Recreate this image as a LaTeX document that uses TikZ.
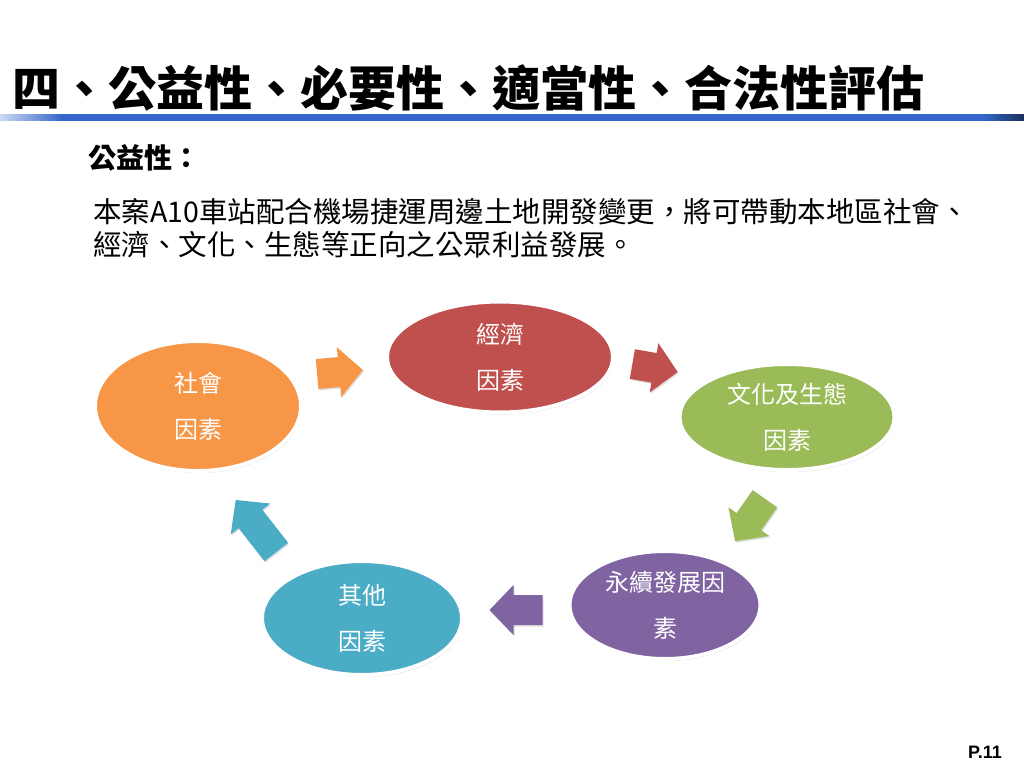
\documentclass[tikz,border=0pt]{standalone}
\usepackage{fontspec}
\newfontfamily\cjk{Noto Sans CJK TC}
\newfontfamily\pagefont{Liberation Sans}
\usetikzlibrary{shapes.geometric,shadows}

\definecolor{barblue}{HTML}{3567CC}
\definecolor{socorange}{HTML}{F79646}
\definecolor{ecored}{HTML}{C0504D}
\definecolor{culgreen}{HTML}{9BBB59}
\definecolor{suspurple}{HTML}{8064A2}
\definecolor{othblue}{HTML}{4BACC6}

\pgfdeclarehorizontalshading{barshade}{100bp}{color(0bp)=(barblue!25!white); color(25bp)=(barblue!25!white);
	color(28bp)=(barblue); color(73bp)=(barblue); color(75bp)=(barblue!45!black); color(100bp)=(barblue!45!black)}

\tikzset{
	factor/.style={ellipse, draw=white, line width=4pt, inner sep=0pt, text=white,
		align=center, font=\cjk\fontsize{24}{46}\selectfont,
		drop shadow={opacity=0.4, shadow xshift=1pt, shadow yshift=-2pt}},
	blockarrow/.style={drop shadow={opacity=0.25, shadow xshift=1pt, shadow yshift=-1.5pt}}
}

\begin{document}
\begin{tikzpicture}[x=1pt,y=-1pt]
		\useasboundingbox (0,0) rectangle (1024,768);
		
		% Title and bar
		\node[anchor=west, inner sep=0pt, font=\cjk\bfseries\fontsize{48}{50}\selectfont] (title) at (12,88) {四、公益性、必要性、適當性、合法性評估};
		\shade[shading=barshade] (0,114) rectangle (1024,120);
		
		% Text
		\node[anchor=west, inner sep=0pt, font=\cjk\bfseries\fontsize{28}{30}\selectfont] (head) at (88,158) {公益性：};
		\node[anchor=north west, inner sep=0pt, align=left, font=\cjk\fontsize{28.5}{33}\selectfont] (body) at (93,198)
			{本案A10車站配合機場捷運周邊土地開發變更，將可帶動本地區社會、\\經濟、文化、生態等正向之公眾利益發展。};
		
		% Factors
		\node[factor, fill=socorange, minimum width=206, minimum height=130] (social) at (198,406) {社會\\因素};
		\node[factor, fill=ecored, minimum width=226, minimum height=111] (economy) at (500,357) {經濟\\因素};
		\node[factor, fill=culgreen, minimum width=215, minimum height=106] (culture) at (787,417) {文化及生態\\因素};
		\node[factor, fill=suspurple, minimum width=191, minimum height=108] (sustain) at (665,605) {永續發展因\\素};
		\node[factor, fill=othblue, minimum width=200, minimum height=114] (other) at (362,618) {其他\\因素};
		
		% Block arrows: centre x / centre y / angle / length / colour
		\foreach \cx/\cy/\ang/\len/\col in {340/372/5/46/socorange, 655/368/-10/46/ecored,
			750/520/-125/52/culgreen, 516/610/180/53/suspurple, 256/526/128/66/othblue} {
			\fill[\col, blockarrow, shift={(\cx,\cy)}, rotate=\ang]
				(-\len/2,-15) -- (\len/2-24,-15) -- (\len/2-24,-25) -- (\len/2,0)
				-- (\len/2-24,25) -- (\len/2-24,15) -- (-\len/2,15) -- cycle;
		}
		
		\node[inner sep=0pt, font=\pagefont\bfseries\fontsize{18}{20}\selectfont] (page) at (985,752) {P.11};
		
	\end{tikzpicture}
\end{document}
